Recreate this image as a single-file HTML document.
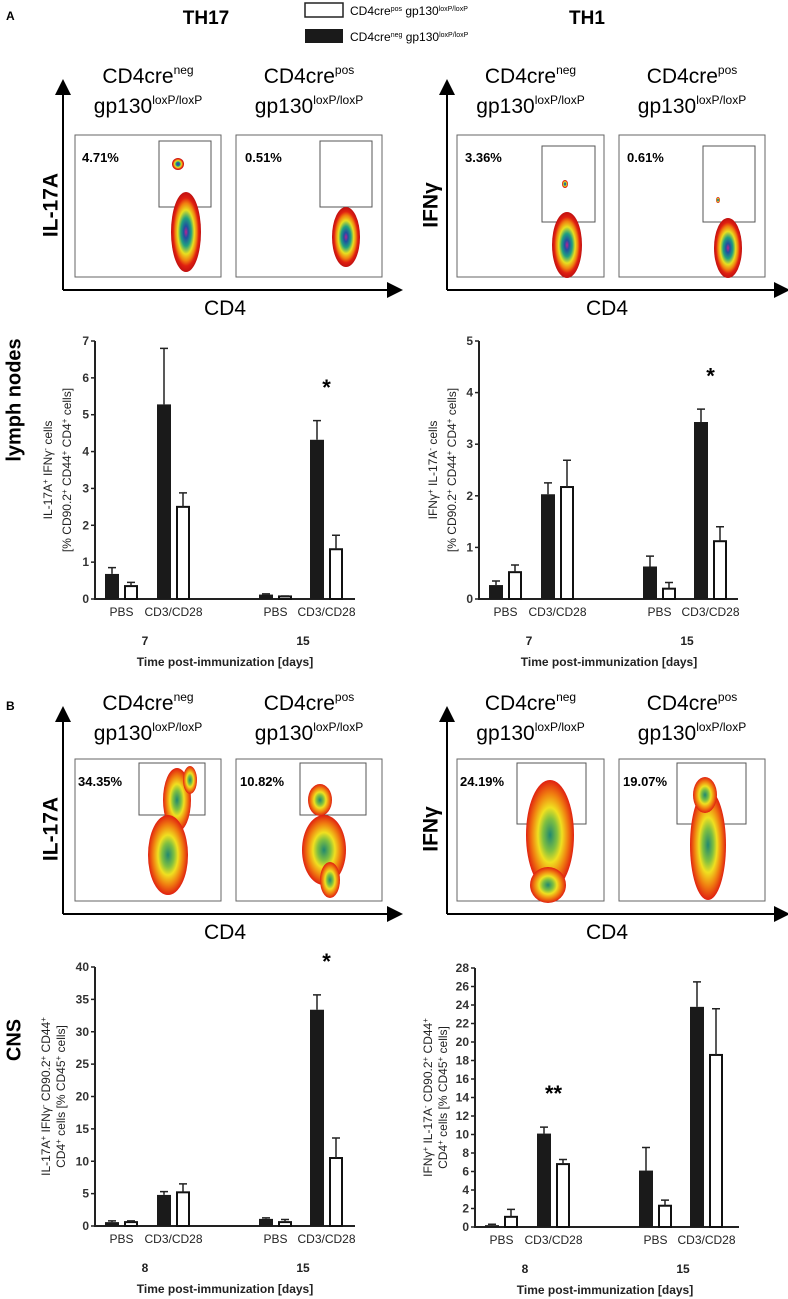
<!DOCTYPE html>
<html><head><meta charset="utf-8"><style>
body{margin:0;background:#fff}
svg{display:block;font-family:"Liberation Sans",Arial,sans-serif}
.b{font-weight:bold}
</style></head><body>
<svg id="fig" width="788" height="1299" viewBox="0 0 788 1299">
<defs>
<radialGradient id="blob" cx="50%" cy="50%" r="50%">
<stop offset="0" stop-color="#c02090"/><stop offset="0.15" stop-color="#2050a0"/><stop offset="0.35" stop-color="#20a080"/><stop offset="0.55" stop-color="#e8e020"/><stop offset="0.72" stop-color="#f08010"/><stop offset="0.85" stop-color="#e02010"/><stop offset="1" stop-color="#c01010"/>
</radialGradient>
<radialGradient id="blob2" cx="50%" cy="50%" r="50%">
<stop offset="0" stop-color="#208870"/><stop offset="0.3" stop-color="#80c040"/><stop offset="0.5" stop-color="#f0e020"/><stop offset="0.75" stop-color="#f08010"/><stop offset="1" stop-color="#e02010"/>
</radialGradient>
<marker id="arr" markerWidth="8" markerHeight="8" refX="2" refY="4" orient="auto"><path d="M0,0 L8,4 L0,8z" fill="#000"/></marker>
</defs>
<g id="static"></g>
<g id="charts"></g>
</svg>
<script>
// ---- chart data ----
const groupLabels = ["PBS","CD3/CD28","PBS","CD3/CD28"];
const c1Days = ["7","15"];
const c1Neg = [0.68,5.28,0.12,4.32];
const c1NegErr = [0.17,1.52,0.02,0.52];
const c1Pos = [0.35,2.5,0.07,1.35];
const c1PosErr = [0.1,0.38,0.01,0.38];
const c1Ticks = [0,1,2,3,4,5,6,7];
const c2Days = ["7","15"];
const c2Neg = [0.27,2.03,0.63,3.43];
const c2NegErr = [0.08,0.22,0.2,0.25];
const c2Pos = [0.52,2.17,0.2,1.12];
const c2PosErr = [0.14,0.52,0.12,0.28];
const c2Ticks = [0,1,2,3,4,5];
const c3Days = ["8","15"];
const c3Neg = [0.6,4.8,1.1,33.4];
const c3NegErr = [0.2,0.5,0.15,2.3];
const c3Pos = [0.6,5.2,0.6,10.5];
const c3PosErr = [0.2,1.3,0.4,3.1];
const c3Ticks = [0,5,10,15,20,25,30,35,40];
const c4Days = ["8","15"];
const c4Neg = [0.2,10.1,6.1,23.8];
const c4NegErr = [0.1,0.7,2.5,2.7];
const c4Pos = [1.1,6.8,2.3,18.6];
const c4PosErr = [0.8,0.5,0.6,5.0];
const c4Ticks = [0,2,4,6,8,10,12,14,16,18,20,22,24,26,28];

const NS="http://www.w3.org/2000/svg";
function mk(p,tag,at,txt){const e=document.createElementNS(NS,tag);for(const k in at)e.setAttribute(k,at[k]);if(txt!=null)e.textContent=txt;p.appendChild(e);return e;}
const root=document.getElementById('charts');
const st=document.getElementById('static');

function chart(name,ax,yTop,yBot,xEnd,ticks,neg,negE,pos,posE,days,stars,titleLines,tx){
  const g=mk(root,'g',{});
  
  
  const max=ticks[ticks.length-1];
  const y=v=>yBot-(v/max)*(yBot-yTop);
  const offs=[[10,29],[62,81],[164,183],[215,234]];
  const w=14;
  const axis=mk(g,'path',{d:`M${ax},${yTop} V${yBot} H${xEnd}`,stroke:'#222','stroke-width':2,fill:'none'});
  
  
  ticks.forEach(t=>{
    mk(g,'line',{x1:ax-4,x2:ax,y1:y(t),y2:y(t),stroke:'#222','stroke-width':1.5});
    const tl=mk(g,'text',{x:ax-6,y:y(t)+4,'text-anchor':'end','font-size':12,class:'b',fill:'#333'},t);
    
    
  });
  for(let i=0;i<4;i++){
    const xb=ax+offs[i][0], xw=ax+offs[i][1];
    const b1=mk(g,'rect',{x:xb,y:y(neg[i]),width:w,height:yBot-y(neg[i]),fill:'#1a1a1a'});
    
    
    mk(g,'path',{d:`M${xb+w/2},${y(neg[i])} V${y(neg[i]+negE[i])} M${xb+w/2-4},${y(neg[i]+negE[i])} H${xb+w/2+4}`,stroke:'#222','stroke-width':1.5});
    const b2=mk(g,'rect',{x:xw+1,y:y(pos[i]),width:w-2,height:yBot-y(pos[i]),fill:'#fff',stroke:'#111','stroke-width':2});
    
    
    mk(g,'path',{d:`M${xw+w/2},${y(pos[i])} V${y(pos[i]+posE[i])} M${xw+w/2-4},${y(pos[i]+posE[i])} H${xw+w/2+4}`,stroke:'#222','stroke-width':1.5});
    const cx=(xb+xw+w)/2;
    const lb=mk(g,'text',{x:cx,y:yBot+17,'text-anchor':'middle','font-size':12,fill:'#222'},groupLabels[i]);
    
    
  }
  days.forEach((d,k)=>{
    const cx=ax+(k===0?50:208);
    const dl=mk(g,'text',{x:cx,y:yBot+46,'text-anchor':'middle','font-size':12,class:'b',fill:'#222'},d);
    
    
  });
  const xt=mk(g,'text',{x:ax+130,y:yBot+67,'text-anchor':'middle','font-size':12,class:'b',fill:'#222'},'Time post-immunization [days]');
  
  
  stars.forEach(s=>{
    const i=s[0];const v=neg[i]+negE[i];
    const sx=ax+(offs[i][0]+offs[i][1]+w)/2;
    const sl=mk(g,'text',{x:sx,y:y(v)-(yBot-yTop)*0.1,'text-anchor':'middle','font-size':22,class:'b'},s[1]);
    
    
  });
  const cy=(yTop+yBot)/2;
  titleLines.forEach((l,k)=>{
    const t=mk(g,'text',{transform:`translate(${tx[k]},${cy}) rotate(-90)`,'text-anchor':'middle','font-size':12,fill:'#222'});
    t.innerHTML=l;
    
    
  });
}
const sup=s=>`<tspan dy="-4" font-size="8">${s}</tspan><tspan dy="4"> </tspan>`;
chart('chart-ln-th17',95,341,599,355,c1Ticks,c1Neg,c1NegErr,c1Pos,c1PosErr,c1Days,[[3,'*']],
 [`IL-17A${sup('+')}IFNγ${sup('-')}cells`,`[% CD90.2${sup('+')}CD44${sup('+')}CD4${sup('+')}cells]`],[52,71]);
chart('chart-ln-th1',479,341,599,738,c2Ticks,c2Neg,c2NegErr,c2Pos,c2PosErr,c2Days,[[3,'*']],
 [`IFNγ${sup('+')}IL-17A${sup('-')}cells`,`[% CD90.2${sup('+')}CD44${sup('+')}CD4${sup('+')}cells]`],[437,456]);
chart('chart-cns-th17',95,967,1226,355,c3Ticks,c3Neg,c3NegErr,c3Pos,c3PosErr,c3Days,[[3,'*']],
 [`IL-17A${sup('+')}IFNγ${sup('-')}CD90.2${sup('+')}CD44${sup('+')}`,`CD4${sup('+')}cells [% CD45${sup('+')}cells]`],[50,65]);
chart('chart-cns-th1',475,968,1227,739,c4Ticks,c4Neg,c4NegErr,c4Pos,c4PosErr,c4Days,[[1,'**']],
 [`IFNγ${sup('+')}IL-17A${sup('-')}CD90.2${sup('+')}CD44${sup('+')}`,`CD4${sup('+')}cells [% CD45${sup('+')}cells]`],[432,447]);

// ---- static: headers, legend, flow plots ----
function txt(x,y,s,size,name,extra){const t=mk(st,'text',Object.assign({x:x,y:y,'font-size':size,'text-anchor':'middle',class:'b'},extra||{}));t.innerHTML=s;return t;}
txt(6,20,'A',12,'panel-label-a',{'text-anchor':'start'});
txt(6,710,'B',12,'panel-label-b',{'text-anchor':'start'});
txt(206,24,'TH17',19,'th17-header');
txt(587,24,'TH1',19,'th1-header');
const lg1=mk(st,'rect',{x:305,y:3,width:38,height:14,fill:'#fff',stroke:'#222','stroke-width':1.5});


const lg2=mk(st,'rect',{x:305,y:29,width:38,height:14,fill:'#1a1a1a'});


txt(350,15,'CD4cre<tspan dy="-4" font-size="7">pos</tspan><tspan dy="4"> gp130</tspan><tspan dy="-4" font-size="7">loxP/loxP</tspan>',12,'legend-entry-pos',{'text-anchor':'start',class:''});
txt(350,41,'CD4cre<tspan dy="-4" font-size="7">neg</tspan><tspan dy="4"> gp130</tspan><tspan dy="-4" font-size="7">loxP/loxP</tspan>',12,'legend-entry-neg',{'text-anchor':'start',class:''});
txt(15,400,'lymph nodes',20,'lymph-nodes-label',{transform:'rotate(-90 15 400)','dominant-baseline':'middle'});
txt(15,1040,'CNS',20,'cns-label',{transform:'rotate(-90 15 1040)','dominant-baseline':'middle'});

function flowRow(top,yTitle){
  const boxTop=top, boxBot=top+142;
  const panels=[[75,221,'neg'],[236,382,'pos'],[457,604,'neg'],[619,765,'pos']];
  panels.forEach(p=>{
    const cx=(p[0]+p[1])/2;
    txt(cx,yTitle,`CD4cre<tspan dy="-9" font-size="12">${p[2]}</tspan>`,21,'sample-title',{class:''});
    txt(cx,yTitle+30,`gp130<tspan dy="-9" font-size="12">loxP/loxP</tspan>`,21,'sample-title',{class:''});
    const r=mk(st,'rect',{x:p[0],y:boxTop,width:p[1]-p[0],height:boxBot-boxTop,fill:'none',stroke:'#666','stroke-width':1});
    
    
  });
  [[63,397],[447,784]].forEach(a=>{
    mk(st,'path',{d:`M${a[0]},${boxBot+13} V${yTitle+8}`,stroke:'#000','stroke-width':2,'marker-end':'url(#arr)'});
    mk(st,'path',{d:`M${a[0]},${boxBot+13} H${a[1]-6}`,stroke:'#000','stroke-width':2,'marker-end':'url(#arr)'});
  });
  txt(225,boxBot+38,'CD4',21,'x-axis-label-cd4',{class:''});
  txt(607,boxBot+38,'CD4',21,'x-axis-label-cd4',{class:''});
  txt(52,boxTop+70,'IL-17A',21,'y-axis-label-il17a',{transform:`rotate(-90 52 ${boxTop+70})`,'dominant-baseline':'middle'});
  txt(432,boxTop+70,'IFNγ',21,'y-axis-label-ifng',{transform:`rotate(-90 432 ${boxTop+70})`,'dominant-baseline':'middle'});
}
flowRow(135,83);
flowRow(759,710);

function gate(x1,y1,x2,y2){const r=mk(st,'rect',{x:x1,y:y1,width:x2-x1,height:y2-y1,fill:'none',stroke:'#555','stroke-width':1});}
function blob(cx,cy,rx,ry,grad){const e=mk(st,'ellipse',{cx:cx,cy:cy,rx:rx,ry:ry,fill:`url(#${grad})`});}
function pct(x,y,s){txt(x,y,s,13,'gate-percentage',{'text-anchor':'start'});}
// A
gate(159,141,211,207);gate(320,141,372,207);gate(542,146,595,222);gate(703,146,755,222);
blob(186,232,15,40,'blob');blob(178,164,6,6,'blob');
blob(346,237,14,30,'blob');
blob(567,245,15,33,'blob');blob(565,184,3,4,'blob');
blob(728,248,14,30,'blob');blob(718,200,2,3,'blob');
pct(82,162,'4.71%');pct(245,162,'0.51%');pct(465,162,'3.36%');pct(627,162,'0.61%');
// B
gate(139,763,205,815);gate(300,763,366,815);gate(517,763,586,824);gate(677,763,746,824);
blob(177,800,14,32,'blob2');blob(168,855,20,40,'blob2');blob(190,780,7,14,'blob2');
blob(320,800,12,16,'blob2');blob(324,850,22,35,'blob2');blob(330,880,10,18,'blob2');
blob(550,835,24,55,'blob2');blob(548,885,18,18,'blob2');
blob(708,845,18,55,'blob2');blob(705,795,12,18,'blob2');
pct(78,786,'34.35%');pct(240,786,'10.82%');pct(460,786,'24.19%');pct(623,786,'19.07%');
</script>
</body></html>
